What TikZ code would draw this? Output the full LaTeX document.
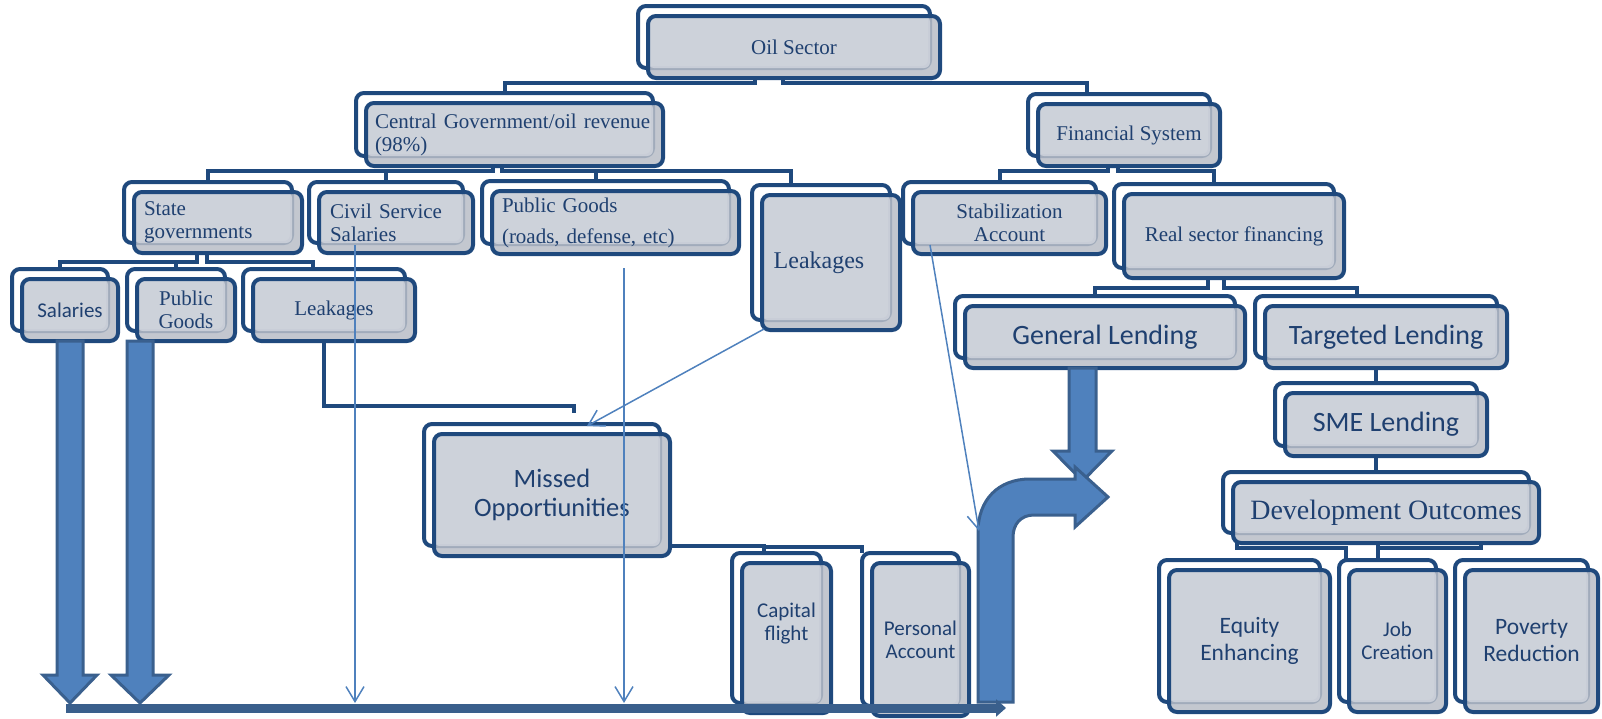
\documentclass[tikz,border=0pt]{standalone}
\usepackage{fontspec}
\setmainfont{Liberation Serif}
\newfontfamily\calib{Carlito}
\usetikzlibrary{arrows.meta,fit,backgrounds}

\definecolor{boxline}{RGB}{31,73,125}
\definecolor{boxface}{RGB}{208,212,220}
\definecolor{boxshade}{RGB}{184,189,199}
\definecolor{textblue}{RGB}{31,64,112}
\definecolor{arrowfill}{RGB}{79,129,189}
\definecolor{arrowedge}{RGB}{58,96,142}
\definecolor{flowblue}{RGB}{58,95,140}

\begin{document}
\begin{tikzpicture}[x=1pt, y=-1pt,
    frontbox/.style={draw=boxline, line width=4pt, rounded corners=8pt, fill=boxshade,
      fill opacity=0.85, text opacity=1, text=textblue, align=center,
      inner sep=0pt, outer sep=0pt,
      path picture={\fill[boxface, rounded corners=6pt]
        (path picture bounding box.north west) rectangle
        ([shift={(-10pt,10pt)}]path picture bounding box.south east);}},
    backbox/.style={draw=boxline, line width=4pt, rounded corners=8pt,
      inner sep=0pt, outer sep=0pt},
    link/.style={draw=boxline, line width=4pt},
    rmtext/.style={font=\fontsize{21}{23}\selectfont},
    rmbig/.style={font=\fontsize{24}{27}\selectfont},
    rmhuge/.style={font=\fontsize{28}{32}\selectfont},
    sftext/.style={font=\calib\fontsize{21}{23}\selectfont},
    sfmid/.style={font=\calib\fontsize{23.5}{27}\selectfont},
    sfbig/.style={font=\calib\fontsize{26.5}{29}\selectfont},
    sfhuge/.style={font=\calib\fontsize{28}{32}\selectfont},
    blockarrow/.style={fill=arrowfill, draw=arrowedge, line width=3pt, line join=miter},
    thinarrow/.style={draw=arrowfill, line width=1.5pt, -{Straight Barb[length=15pt,width=18pt]}},
    flowarrow/.style={draw=flowblue, line width=9pt, -{Triangle[length=10pt,width=17pt]}}]
  \useasboundingbox (0,0) rectangle (1602,718);

  % 上の段
  \node[frontbox, rmtext, minimum width=292pt, minimum height=62pt] (oil) at (794,47) {Oil Sector};
  \node[frontbox, rmtext, minimum width=297pt, minimum height=63pt, text width=279pt, align=left] (cgov) at (514.5,134.5) {Central Government/oil revenue\\(98\%)};
  \node[frontbox, rmtext, minimum width=182pt, minimum height=62pt] (fin) at (1129,135) {Financial System};
  \node[frontbox, rmtext, minimum width=168pt, minimum height=61pt, text width=148pt, align=left] (stgov) at (218,222.5) {State\\governments};
  \node[frontbox, rmtext, minimum width=154pt, minimum height=61pt, text width=132pt, align=left] (civil) at (396,222.5) {Civil Service\\Salaries};
  \node[frontbox, rmtext, minimum width=247pt, minimum height=63pt, text width=227pt, align=left] (pubg) at (615.5,222.5) {Public Goods\\[8pt](roads, defense, etc)};
  \node[frontbox, rmbig, minimum width=138pt, minimum height=135pt] (leakc) at (831,262.5) {Leakages\hspace*{24pt}};
  \node[frontbox, rmtext, minimum width=193pt, minimum height=62pt] (stab) at (1009.5,223) {Stabilization\\Account};
  \node[frontbox, rmtext, minimum width=220pt, minimum height=84pt] (real) at (1234,236) {Real sector financing};
  \node[frontbox, sftext, minimum width=96pt, minimum height=62pt] (sal) at (70,310) {Salaries};
  \node[frontbox, rmtext, minimum width=98pt, minimum height=62pt] (pubs) at (186,310) {Public\\Goods};
  \node[frontbox, rmtext, minimum width=162pt, minimum height=62pt] (leaks) at (334,310) {Leakages};
  \node[frontbox, sfhuge, minimum width=280pt, minimum height=62pt] (gen) at (1105,337) {General Lending};
  \node[frontbox, sfhuge, minimum width=242pt, minimum height=62pt] (targ) at (1386,337) {Targeted Lending};
  \node[frontbox, sfhuge, minimum width=202pt, minimum height=63pt] (sme) at (1386,424.5) {SME Lending};
  \node[frontbox, rmhuge, minimum width=306pt, minimum height=61pt] (devout) at (1386,512.5) {Development Outcomes};
  \node[frontbox, sfmid, minimum width=161pt, minimum height=142pt] (equity) at (1249.5,641) {Equity\\Enhancing};
  \node[frontbox, sftext, minimum width=97pt, minimum height=142pt] (job) at (1397.5,641) {Job\\Creation};
  \node[frontbox, sfmid, minimum width=133pt, minimum height=142pt] (pov) at (1531.5,641) {Poverty\\Reduction};
  \node[frontbox, sfbig, minimum width=236pt, minimum height=122pt] (missed) at (552,495) {Missed\\Opportiunities};
  \node[frontbox, sftext, minimum width=89pt, minimum height=150pt] (cap) at (786.5,638) {Capital\\flight\\[10pt]\mbox{}};
  \node[frontbox, sftext, minimum width=97pt, minimum height=153pt] (pers) at (920.5,639.5) {Personal\\Account};

  % 後ろの枠と線
  \begin{scope}[on background layer]
    \foreach \nd in {oil,cgov,fin,stgov,civil,pubg,leakc,stab,real,sal,pubs,leaks,gen,targ,sme,devout,equity,job,pov,missed,cap,pers}
      \node[backbox, fit={([shift={(-10pt,10pt)}]\nd.north west) ([shift={(-10pt,10pt)}]\nd.south east)}] (\nd-b) {};

    \draw[link] ([xshift=-39pt]oil.south) -- ++(0,5) -| (cgov-b.north);
    \draw[link] ([xshift=-11pt]oil.south) -- ++(0,5) -| ([xshift=-32pt]fin-b.north);
    \draw[link] ([xshift=-21.5pt]cgov.south) -- ++(0,5) -| (stgov-b.north);
    \draw[link] (civil-b.north) -- ++(0,-11);
    \draw[link] ([xshift=-12.5pt]cgov.south) -- ++(0,5) -| ([xshift=-30pt]leakc-b.north);
    \draw[link] ([xshift=-10pt]pubg-b.north) -- ++(0,-11);
    \draw[link] ([xshift=-21pt]fin.south) -- ++(0,5) -| (stab-b.north);
    \draw[link] ([xshift=-11pt]fin.south) -- ++(0,5) -| ([xshift=-10pt]real-b.north);
    \draw[link] ([xshift=-21pt]stgov.south) -- ++(0,9) -| (sal-b.north);
    \draw[link] ([xshift=-11pt]stgov.south) -- ++(0,9) -| ([xshift=-11pt]leaks-b.north);
    \draw[link] (pubs-b.north) -- ++(0,-7);
    \draw[link] ([xshift=-10pt]leaks.south) -- ++(0,65) -| ([xshift=32pt,yshift=11pt]missed-b.north);
    \draw[link] ([yshift=10pt]missed.south east) -| ([xshift=-13pt]cap-b.north);
    \draw[link] ([xshift=-13pt,yshift=6pt]cap-b.north) -| ([xshift=-48.5pt]pers-b.north);
    \draw[link] ([xshift=-26pt]real.south) -- ++(0,10) -| (gen-b.north);
    \draw[link] ([xshift=-10pt]real.south) -- ++(0,10) -| ([xshift=-19pt]targ-b.north);
    \draw[link] (sme-b.north) -- (sme-b.north |- targ.south);
    \draw[link] (devout-b.north) -- (devout-b.north |- sme.south);
    \draw[link] ([xshift=4pt]devout.south west) -- ++(0,5) -| ([xshift=-42pt]job-b.north);
    \draw[link] ([xshift=-8.5pt]devout.south) -- ([xshift=-10pt]job-b.north);
    \draw[link] ([xshift=-8.5pt,yshift=-5pt]devout.south) -| ([xshift=-58pt]devout.south east);
  \end{scope}

  % 太い矢印
  \draw[blockarrow] ([xshift=-13pt]sal.south) -- ++(0,334) -- ++(-14,0) -- ++(27,28) -- ++(27,-28) -- ++(-14,0) -- ([xshift=13pt]sal.south) -- cycle;
  \draw[blockarrow] ([xshift=-59pt]pubs.south) -- ++(0,334) -- ++(-16,0) -- ++(29,28) -- ++(29,-28) -- ++(-16,0) -- ([xshift=-33pt]pubs.south) -- cycle;
  \draw[blockarrow] ([xshift=-36pt]gen.south) -- ++(0,83) -- ++(-16,0) -- ++(29.5,30) -- ++(29.5,-30) -- ++(-16,0) -- ([xshift=-9pt]gen.south) -- cycle;
  \draw[blockarrow] (978,702) -- (978,532) .. controls (978,500) and (998,479) .. (1030,479)
    -- (1075,479) -- (1075,467) -- (1108,497) -- (1075,527) -- (1075,515) -- (1034,515)
    .. controls (1021,515) and (1013,524) .. (1013,537) -- (1013,702) -- cycle;

  \coordinate (flowstart) at (66,708);
  \coordinate (flowend) at (1006,708);
  \draw[flowarrow] (flowstart) -- (flowend);

  % 細い矢印
  \coordinate (civilfoot) at (355,703);
  \coordinate (pubgfoot) at (624,703);
  \coordinate (bendin) at (979,531);
  \draw[thinarrow] ([xshift=-41pt,yshift=8pt]civil.south) -- (civilfoot);
  \draw[thinarrow] ([xshift=8.5pt,yshift=-14pt]pubg.south) -- (pubgfoot);
  \draw[thinarrow] ([xshift=2pt,yshift=1pt]leakc.south west) -- ([xshift=45pt,yshift=-2pt]missed-b.north);
  \draw[thinarrow] ([xshift=17pt,yshift=9pt]stab.south west) -- (bendin);
\end{tikzpicture}
\end{document}
